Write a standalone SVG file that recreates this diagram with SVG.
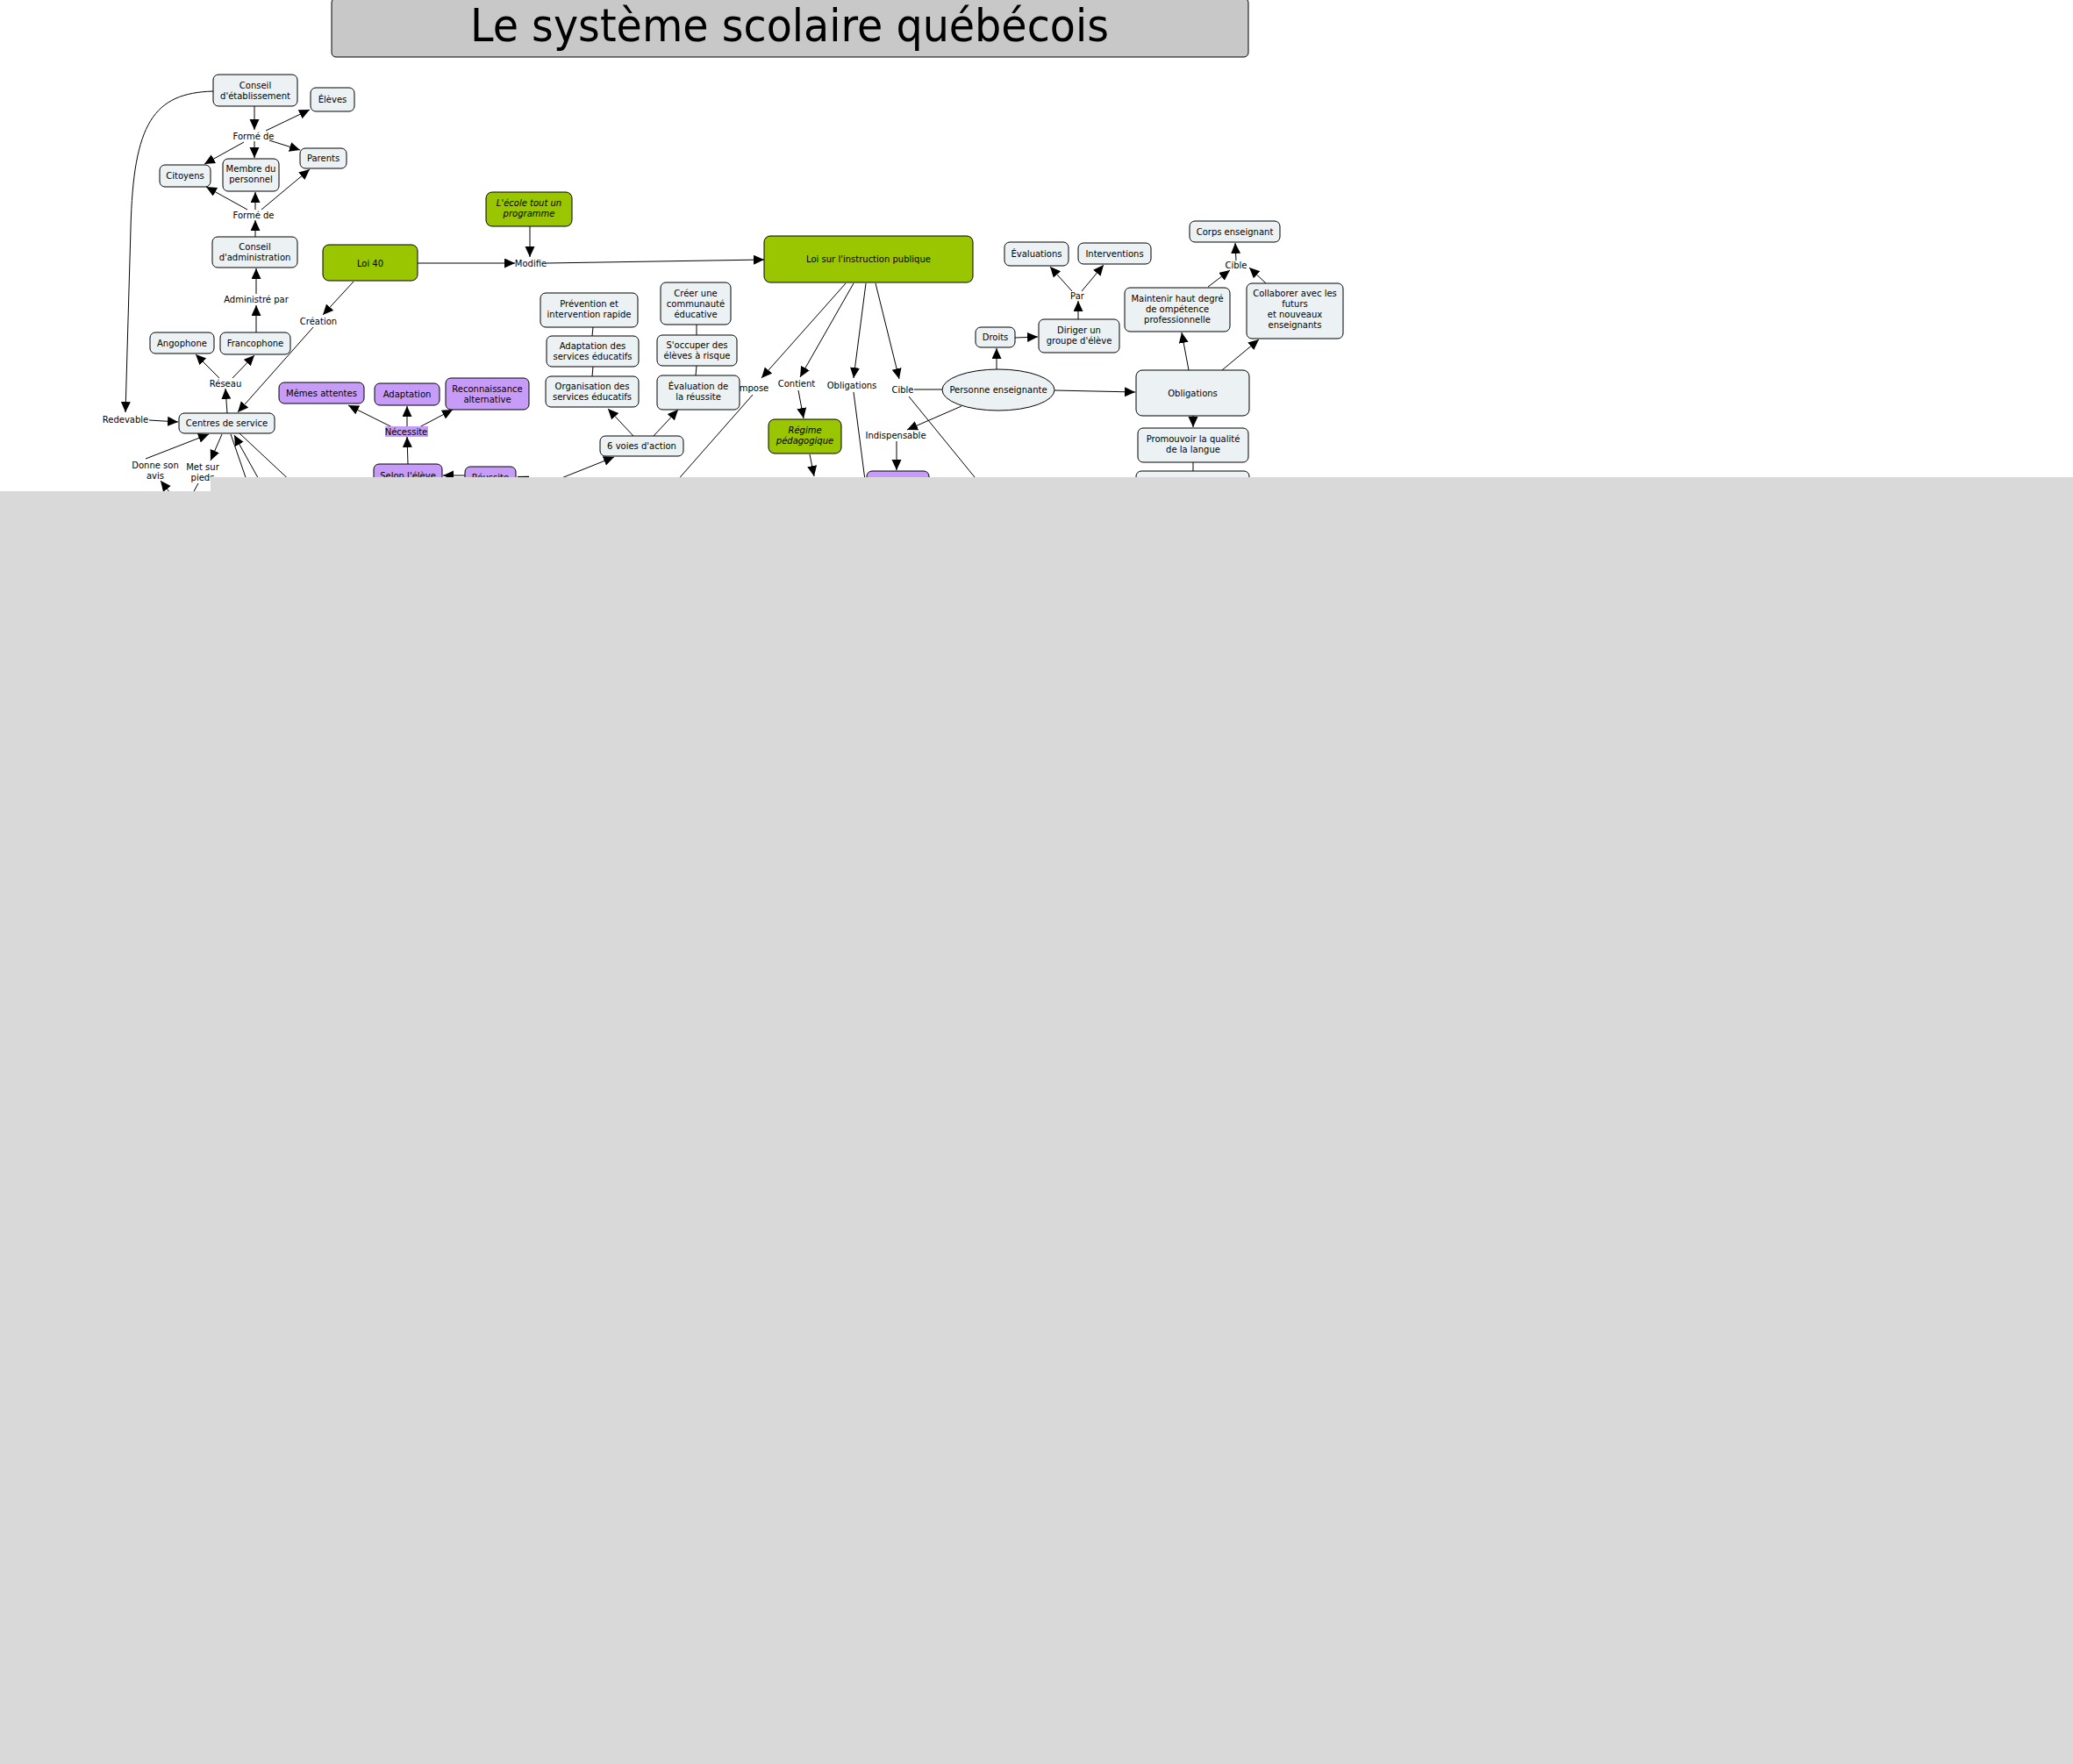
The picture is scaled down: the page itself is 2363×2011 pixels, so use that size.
<svg xmlns="http://www.w3.org/2000/svg" width="2363" height="2011" viewBox="0 0 2363 2011">
<style>
text{font-family:"DejaVu Sans","Verdana",sans-serif;font-size:10px;fill:#000;text-anchor:middle}
.n{fill:#ecf2f4;stroke:#000;stroke-width:1}
.g{fill:#99c600;stroke:#000;stroke-width:1}
.p{fill:#c79cf8;stroke:#000;stroke-width:1}
.c line,.c path{stroke:#000;stroke-width:1;fill:none}
.a{marker-end:url(#ah)}
.it{font-style:italic}
</style>
<defs>
<marker id="ah" markerUnits="userSpaceOnUse" markerWidth="13" markerHeight="12" refX="12" refY="5.5" orient="auto">
<path d="M0,0 L12,5.5 L0,11 z" fill="#000"/>
</marker>
</defs>
<rect width="2363" height="2011" fill="#fff"/>
<g id="title">
<rect x="378" y="-2" width="1045" height="67" rx="5" fill="#c8c8c8" stroke="#000"/>
<text x="900" y="47" style="font-size:52px" textLength="728" lengthAdjust="spacingAndGlyphs">Le système scolaire québécois</text>
</g>
<g class="c" id="connectors">
<line class="a" x1="290" y1="121" x2="290" y2="148"/>
<line class="a" x1="303" y1="149" x2="353" y2="125"/>
<line class="a" x1="307" y1="160" x2="342" y2="171"/>
<line class="a" x1="290" y1="161" x2="290" y2="180"/>
<line class="a" x1="278" y1="162" x2="233" y2="187"/>
<line class="a" x1="282" y1="239" x2="235" y2="213"/>
<line class="a" x1="291" y1="239" x2="291" y2="219"/>
<line class="a" x1="298" y1="239" x2="353" y2="193"/>
<line class="a" x1="291" y1="270" x2="291" y2="251"/>
<line class="a" x1="292" y1="335" x2="292" y2="306"/>
<line class="a" x1="292" y1="379" x2="292" y2="348"/>
<line class="a" x1="403" y1="321" x2="368" y2="359"/>
<line class="a" x1="357" y1="373" x2="271" y2="470"/>
<line class="a" x1="259" y1="471" x2="257" y2="443"/>
<line class="a" x1="250" y1="431" x2="223" y2="404"/>
<line class="a" x1="265" y1="431" x2="290" y2="405"/>
<line class="a" x1="170" y1="479" x2="203" y2="481"/>
<path class="a" d="M243,104 C175,106 152,140 149,260 L143,470"/>
<line class="a" x1="166" y1="523" x2="238" y2="495"/>
<line class="a" x1="253" y1="495" x2="240" y2="525"/>
<line x1="263" y1="495" x2="282" y2="550"/>
<line class="a" x1="297" y1="550" x2="267" y2="496"/>
<line x1="273" y1="494" x2="335" y2="552"/>
<line class="a" x1="194" y1="562" x2="183" y2="548"/>
<line x1="226" y1="551" x2="220" y2="562"/>
<line class="a" x1="476" y1="300" x2="587" y2="300"/>
<line class="a" x1="604" y1="258" x2="604" y2="293"/>
<line class="a" x1="623" y1="300" x2="871" y2="296"/>
<line class="a" x1="447" y1="487" x2="397" y2="462"/>
<line class="a" x1="464" y1="487" x2="464" y2="463"/>
<line class="a" x1="478" y1="487" x2="516" y2="467"/>
<line class="a" x1="465" y1="529" x2="464" y2="498"/>
<line class="a" x1="530" y1="542" x2="505" y2="542"/>
<line class="a" x1="620" y1="556" x2="590" y2="543"/>
<line class="a" x1="620" y1="553" x2="700" y2="521"/>
<line class="a" x1="722" y1="497" x2="693" y2="466"/>
<line class="a" x1="745" y1="497" x2="773" y2="467"/>
<line x1="676" y1="373" x2="675" y2="383"/>
<line x1="676" y1="418" x2="675" y2="429"/>
<line x1="794" y1="370" x2="794" y2="382"/>
<line x1="794" y1="417" x2="793" y2="428"/>
<line class="a" x1="964" y1="323" x2="868" y2="431"/>
<line class="a" x1="973" y1="323" x2="912" y2="430"/>
<line class="a" x1="987" y1="323" x2="973" y2="431"/>
<line class="a" x1="998" y1="323" x2="1025" y2="432"/>
<line x1="858" y1="450" x2="770" y2="550"/>
<line class="a" x1="910" y1="445" x2="916" y2="477"/>
<line class="a" x1="923" y1="518" x2="928" y2="543"/>
<line x1="973" y1="447" x2="987" y2="555"/>
<line x1="1036" y1="452" x2="1120" y2="555"/>
<line x1="1042" y1="444" x2="1074" y2="444"/>
<line class="a" x1="1096" y1="463" x2="1034" y2="490"/>
<line class="a" x1="1022" y1="503" x2="1022" y2="536"/>
<line class="a" x1="1136" y1="421" x2="1136" y2="397"/>
<line class="a" x1="1157" y1="385" x2="1183" y2="384"/>
<line class="a" x1="1229" y1="364" x2="1229" y2="343"/>
<line class="a" x1="1222" y1="332" x2="1197" y2="304"/>
<line class="a" x1="1233" y1="332" x2="1258" y2="302"/>
<line class="a" x1="1202" y1="445" x2="1294" y2="447"/>
<line class="a" x1="1355" y1="422" x2="1347" y2="379"/>
<line class="a" x1="1393" y1="422" x2="1435" y2="387"/>
<line class="a" x1="1377" y1="327" x2="1402" y2="308"/>
<line class="a" x1="1443" y1="323" x2="1424" y2="305"/>
<line class="a" x1="1409" y1="297" x2="1408" y2="277"/>
<line class="a" x1="1360" y1="474" x2="1360" y2="487"/>
<line x1="1360" y1="527" x2="1360" y2="537"/>
</g>
<g id="labels">
<text x="289" y="159">Formé de</text>
<text x="289" y="249">Formé de</text>
<text x="292" y="345">Administré par</text>
<text x="363" y="370">Création</text>
<text x="257" y="441">Réseau</text>
<text x="143" y="482">Redevable</text>
<text x="177" y="534">Donne son</text>
<text x="177" y="546">avis</text>
<text x="231" y="536">Met sur</text>
<text x="231" y="548">pieds</text>
<rect x="439" y="486" width="49" height="12" fill="#c79cf8"/>
<text x="463" y="496">Nécessite</text>
<text x="605" y="304">Modifie</text>
<text x="858" y="446">Impose</text>
<text x="908" y="441">Contient</text>
<text x="971" y="443">Obligations</text>
<text x="1029" y="448">Cible</text>
<text x="1021" y="500">Indispensable</text>
<text x="1228" y="341">Par</text>
<text x="1409" y="306">Cible</text>
</g>
<g id="ce"><rect class="n" x="243" y="85" width="96" height="36" rx="6"/><text x="291" y="100.5">Conseil</text><text x="291" y="112.5">d'établissement</text></g>
<g id="eleves"><rect class="n" x="354" y="100" width="50" height="27" rx="6"/><text x="379" y="117">Élèves</text></g>
<g id="parents"><rect class="n" x="342" y="169" width="53" height="23" rx="6"/><text x="368.5" y="184">Parents</text></g>
<g id="citoyens"><rect class="n" x="182" y="188" width="58" height="25" rx="6"/><text x="211" y="204">Citoyens</text></g>
<g id="membre"><rect class="n" x="254" y="181" width="64" height="37" rx="6"/><text x="286" y="196">Membre du</text><text x="286" y="208">personnel</text></g>
<g id="ca"><rect class="n" x="242" y="270" width="97" height="35" rx="6"/><text x="290.5" y="285">Conseil</text><text x="290.5" y="297">d'administration</text></g>
<g id="loi40"><rect class="g" x="368" y="279" width="108" height="41" rx="7"/><text x="422" y="303.5">Loi 40</text></g>
<g id="angophone"><rect class="n" x="171" y="379" width="73" height="24" rx="6"/><text x="207.5" y="394.5">Angophone</text></g>
<g id="francophone"><rect class="n" x="251" y="379" width="80" height="25" rx="6"/><text x="291" y="395">Francophone</text></g>
<g id="centres"><rect class="n" x="204" y="471" width="109" height="23" rx="6"/><text x="258.5" y="486">Centres de service</text></g>
<g id="memes"><rect class="p" x="318" y="436" width="97" height="24" rx="6"/><text x="366.5" y="451.5">Mêmes attentes</text></g>
<g id="adaptation"><rect class="p" x="427" y="437" width="74" height="25" rx="6"/><text x="464" y="453">Adaptation</text></g>
<g id="reconnaissance"><rect class="p" x="508" y="431" width="95" height="36" rx="6"/><text x="555.5" y="446.5">Reconnaissance</text><text x="555.5" y="458.5">alternative</text></g>
<g id="selon"><rect class="p" x="426" y="529" width="78" height="26" rx="6"/><text x="465" y="545.5">Selon l'élève</text></g>
<g id="reussite"><rect class="p" x="530" y="532" width="58" height="24" rx="6"/><text x="559" y="547.5">Réussite</text></g>
<g id="ecole"><rect class="g" x="554" y="219" width="98" height="39" rx="7"/><text class="it" x="603" y="235">L'école tout un</text><text class="it" x="603" y="247">programme</text></g>
<g id="prevention"><rect class="n" x="616" y="334" width="111" height="39" rx="6"/><text x="671.5" y="350">Prévention et</text><text x="671.5" y="362">intervention rapide</text></g>
<g id="adaptserv"><rect class="n" x="623" y="383" width="105" height="35" rx="6"/><text x="675.5" y="398">Adaptation des</text><text x="675.5" y="410">services éducatifs</text></g>
<g id="organisation"><rect class="n" x="622" y="429" width="106" height="35" rx="6"/><text x="675" y="444">Organisation des</text><text x="675" y="456">services éducatifs</text></g>
<g id="creer"><rect class="n" x="753" y="322" width="80" height="48" rx="6"/><text x="793" y="337.5">Créer une</text><text x="793" y="349.5">communauté</text><text x="793" y="361.5">éducative</text></g>
<g id="occuper"><rect class="n" x="749" y="382" width="91" height="35" rx="6"/><text x="794.5" y="397">S'occuper des</text><text x="794.5" y="409">élèves à risque</text></g>
<g id="evaluation"><rect class="n" x="749" y="428" width="94" height="39" rx="6"/><text x="796" y="444">Évaluation de</text><text x="796" y="456">la réussite</text></g>
<g id="voies"><rect class="n" x="684" y="497" width="95" height="23" rx="6"/><text x="731.5" y="512">6 voies d'action</text></g>
<g id="lip"><rect class="g" x="871" y="269" width="238" height="53" rx="7"/><text x="990" y="299">Loi sur l'instruction publique</text></g>
<g id="regime"><rect class="g" x="876" y="478" width="83" height="39" rx="7"/><text class="it" x="917.5" y="494">Régime</text><text class="it" x="917.5" y="506">pédagogique</text></g>
<g id="indisp"><rect class="p" x="988" y="537" width="71" height="26" rx="6"/></g>
<g id="personne"><ellipse class="n" cx="1138" cy="444.5" rx="64" ry="23.5"/><text x="1138" y="448">Personne enseignante</text></g>
<g id="droits"><rect class="n" x="1112" y="373" width="45" height="23" rx="6"/><text x="1134.5" y="388">Droits</text></g>
<g id="diriger"><rect class="n" x="1184" y="364" width="92" height="38" rx="6"/><text x="1230" y="380">Diriger un</text><text x="1230" y="392">groupe d'élève</text></g>
<g id="evaluations"><rect class="n" x="1145" y="276" width="73" height="27" rx="6"/><text x="1181.5" y="293">Évaluations</text></g>
<g id="interventions"><rect class="n" x="1229" y="277" width="83" height="24" rx="6"/><text x="1270.5" y="292.5">Interventions</text></g>
<g id="corps"><rect class="n" x="1356" y="252" width="103" height="24" rx="6"/><text x="1407.5" y="267.5">Corps enseignant</text></g>
<g id="maintenir"><rect class="n" x="1282" y="328" width="120" height="50" rx="6"/><text x="1342" y="344">Maintenir haut degré</text><text x="1342" y="356">de ompétence</text><text x="1342" y="368">professionnelle</text></g>
<g id="collaborer"><rect class="n" x="1421" y="323" width="110" height="63" rx="6"/><text x="1476" y="338">Collaborer avec les</text><text x="1476" y="350">futurs</text><text x="1476" y="362">et nouveaux</text><text x="1476" y="374">enseignants</text></g>
<g id="obligations"><rect class="n" x="1295" y="422" width="129" height="52" rx="7"/><text x="1359.5" y="451.5">Obligations</text></g>
<g id="promouvoir"><rect class="n" x="1297" y="488" width="126" height="39" rx="6"/><text x="1360" y="504">Promouvoir la qualité</text><text x="1360" y="516">de la langue</text></g>
<g id="suite"><rect class="n" x="1295" y="537" width="129" height="30" rx="6"/></g>
<path id="cover" d="M240,544 L2363,544 L2363,2011 L0,2011 L0,560 L240,560 z" fill="#d9d9d9"/>
</svg>
